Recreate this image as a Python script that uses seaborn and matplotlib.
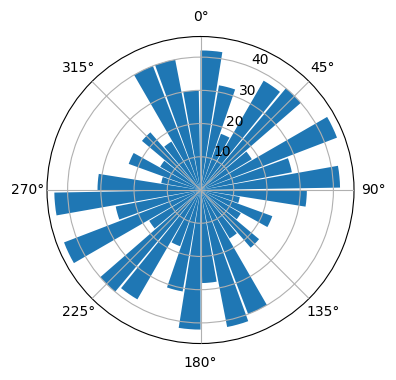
import numpy as np
import pandas as pd
import matplotlib
matplotlib.use("Agg")
import matplotlib.pyplot as plt
import seaborn as sns

# Data: bin start angle (degrees) and bar length
angles_deg = [0, 10, 20, 30, 40, 50, 60, 70, 80,
              90, 100, 110, 120, 130, 140, 150, 160, 170,
              180, 190, 200, 210, 220, 230, 240, 250, 260,
              270, 280, 290, 300, 310, 320, 330, 340, 350]
radii = [42, 32, 18, 38, 40, 18, 44, 28, 42,
         32, 12, 23, 14, 23, 17, 40, 42, 28,
         42, 31, 18, 38, 40, 18, 44, 26, 44,
         31, 12, 23, 14, 23, 17, 40, 40, 30]
radial_ticks = [10, 20, 30, 40]

bar_frac = 0.9
step = 10
df = pd.DataFrame({
    "theta": np.deg2rad(np.array(angles_deg) + step * bar_frac / 2),
    "radius": radii,
})

fig = plt.figure(figsize=(3.96, 3.80), dpi=100)
ax = fig.add_axes([0.1187, 0.096, 0.7753, 0.8079], projection="polar")
ax.set_theta_zero_location("N")
ax.set_theta_direction(-1)

sns.barplot(data=df, x="theta", y="radius", native_scale=True, width=bar_frac,
            color="#1f77b4", saturation=1, errorbar=None, linewidth=0, ax=ax)

ax.set_xlabel("")
ax.set_ylabel("")
ax.set_xlim(0, 2 * np.pi)
ax.set_ylim(0, max(radii) * 1.05)
ax.set_xticks(np.deg2rad(np.arange(0, 360, 45)))
ax.set_xticklabels([f"{d}°" for d in range(0, 360, 45)])
ax.set_yticks(radial_ticks)
ax.set_yticklabels([str(t) for t in radial_ticks])
ax.set_rlabel_position(22.5)
ax.grid(True, color="#b0b0b0", linewidth=0.8)
ax.set_axisbelow(False)

fig.savefig("out.png", dpi=100)
